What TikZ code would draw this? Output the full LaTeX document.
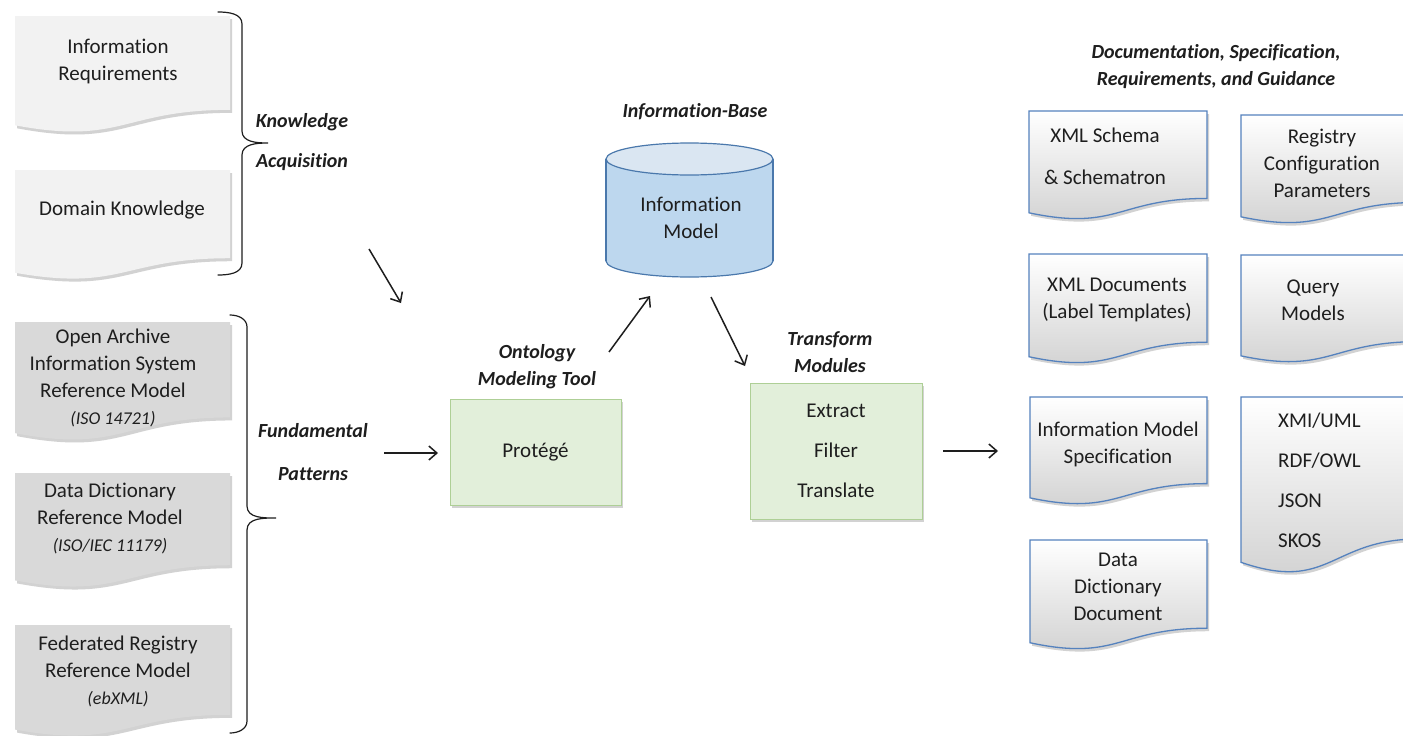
\documentclass[tikz,border=0pt]{standalone}
\usepackage{fontspec}
\setmainfont{Carlito}[Ligatures=NoCommon]
\usetikzlibrary{arrows.meta,shadows}

\definecolor{ink}{HTML}{1E1E1E}
\definecolor{paperlt}{HTML}{F2F2F2}
\definecolor{papergr}{HTML}{D9D9D9}
\definecolor{docblue}{HTML}{5582BE}
\definecolor{docbottom}{HTML}{CFCFCF}
\definecolor{greenfill}{HTML}{E2EFDA}
\definecolor{greenline}{HTML}{AECF96}
\definecolor{cylbody}{HTML}{BDD7EE}
\definecolor{cyltop}{HTML}{DAE6F2}
\definecolor{cylline}{HTML}{4A78AC}

\tikzset{
  softshadow/.style={drop shadow={shadow xshift=2pt, shadow yshift=-3pt, opacity=.25, fill=black!70}},
  lightdoc/.style={fill=paperlt, softshadow},
  greydoc/.style={fill=papergr, softshadow},
  outdoc/.style={draw=docblue, line width=1.3pt, top color=white, bottom color=docbottom, softshadow},
  procbox/.style={draw=greenline, fill=greenfill, line width=1pt, softshadow, font=\fontsize{21}{40}\selectfont, text=ink, align=center},
  bodytext/.style={font=\fontsize{21}{27}\selectfont, text=ink, align=center, inner sep=0pt},
  caption/.style={font=\fontsize{20}{27}\selectfont\bfseries\itshape, text=ink, align=center, inner sep=0pt},
  flow/.style={draw=ink, line width=1.5pt, -{Straight Barb[length=8pt, width=14pt]}},
  brace/.style={draw=ink, line width=1.2pt, line cap=round},
}

% document outline with a wavy bottom edge:
% #1 style, #2 left x, #3 top y, #4 right x, #5 height
\newcommand\docpath[5]{%
  \pgfmathsetmacro\dxm{(#2+#4)/2}%
  \pgfmathsetmacro\dyr{#3+0.802*#5}%
  \pgfmathsetmacro\dyl{#3+0.934*#5}%
  \pgfmathsetmacro\dyc{#3+1.107*#5}%
  \path[#1] (#2,#3) -- (#4,#3) -- (#4,\dyr)
    .. controls (\dxm,\dyr) and (\dxm,\dyc) .. (#2,\dyl) -- cycle;
}

\begin{document}
\begin{tikzpicture}[x=1pt, y=-1pt]
\useasboundingbox (0,0) rectangle (1403,736);
\fill[white] (0,0) rectangle (1403,736);

% ---- inputs: knowledge acquisition
\docpath{lightdoc}{15}{16}{230}{117}
\docpath{lightdoc}{15}{170}{230}{110}
\node[bodytext] (inforeq) at (118,61) {Information\\Requirements};
\node[bodytext] (domain) at (122,210) {Domain Knowledge};

\draw[brace] (218,12) to[out=0,in=90] (242,24) -- (242,131)
  to[out=-90,in=180] (268,143) to[out=180,in=90] (242,155)
  -- (242,263) to[out=-90,in=0] (218,275);
\node[caption, font=\fontsize{20}{40}\selectfont\bfseries\itshape] (know) at (302,142) {Knowledge\\Acquisition};

% ---- inputs: fundamental patterns
\docpath{greydoc}{15}{322}{230}{119}
\docpath{greydoc}{15}{473}{230}{115}
\docpath{greydoc}{15}{625}{230}{112}
\node[bodytext] (oais) at (113,378) {Open Archive\\Information System\\Reference Model\\{\fontsize{18}{27}\selectfont\itshape (ISO 14721)}};
\node[bodytext] (ddrm) at (110,519) {Data Dictionary\\Reference Model\\{\fontsize{18}{27}\selectfont\itshape (ISO/IEC 11179)}};
\node[bodytext] (ebxml) at (118,671) {Federated Registry\\Reference Model\\{\fontsize{18}{27}\selectfont\itshape (ebXML)}};

\draw[brace] (230,315) to[out=0,in=90] (247,327) -- (247,506)
  to[out=-90,in=180] (276,518) to[out=180,in=90] (247,530)
  -- (247,721) to[out=-90,in=0] (230,733);
\node[caption, font=\fontsize{20}{43}\selectfont\bfseries\itshape] (fund) at (313,452) {Fundamental\\Patterns};

% ---- ontology tool
\node[procbox, minimum width=171pt, minimum height=106pt] (protege) at (535.5,452) {Protégé};
\node[caption] (ontcap) at (537,367) {Ontology\\Modeling Tool};

% ---- information base (cylinder)
\fill[cylbody, draw=cylline, line width=1.2pt] (689.5,261) ellipse[x radius=83.5, y radius=16];
\fill[cylbody] (606,159) rectangle (773,261);
\draw[cylline, line width=1.2pt] (606,159) -- (606,261) (773,159) -- (773,261);
\fill[cyltop, draw=cylline, line width=1.2pt] (689.5,159) ellipse[x radius=83.5, y radius=16];
\node[bodytext] (infomodel) at (691,218) {Information\\Model};
\node[caption] (ibcap) at (695,112) {Information-Base};

% ---- transform modules
\node[procbox, minimum width=172pt, minimum height=136pt] (transform) at (836,451) {Extract\\Filter\\Translate};
\node[caption] (tmcap) at (830,352) {Transform\\Modules};

% ---- outputs
\node[caption] (outcap) at (1216,67) {Documentation, Specification,\\Requirements, and Guidance};
\docpath{outdoc}{1029}{111}{1207}{109}
\docpath{outdoc}{1241}{115}{1419}{109}
\docpath{outdoc}{1029}{254}{1207}{110}
\docpath{outdoc}{1241}{255}{1419}{108}
\docpath{outdoc}{1030}{397}{1207}{108}
\docpath{outdoc}{1030}{540}{1207}{110}
\docpath{outdoc}{1241}{397}{1419}{177}
\node[bodytext, font=\fontsize{21}{42}\selectfont] (xsd) at (1105,156) {XML Schema\\\& Schematron};
\node[bodytext] (regconf) at (1322,163) {Registry\\Configuration\\Parameters};
\node[bodytext] (xmldoc) at (1117,300) {XML Documents\\(Label Templates)};
\node[bodytext] (query) at (1313,300) {Query\\Models};
\node[bodytext] (imspec) at (1118,444) {Information Model\\Specification};
\node[bodytext] (dddoc) at (1118,587) {Data\\Dictionary\\Document};
\node[bodytext, align=left, anchor=west, font=\fontsize{21}{40}\selectfont] (formats) at (1278,480) {XMI/UML\\RDF/OWL\\JSON\\SKOS};

% ---- flow arrows
\coordinate (ka-s) at (369,249);  \coordinate (ka-e) at (401,303);
\coordinate (fp-s) at (384,453);  \coordinate (fp-e) at (438,453);
\coordinate (ot-s) at (609,352);  \coordinate (ot-e) at (650,296);
\coordinate (ib-s) at (711,297);  \coordinate (ib-e) at (745,366);
\coordinate (tm-s) at (943,451);  \coordinate (tm-e) at (998,451);
\draw[flow] (ka-s) -- (ka-e);
\draw[flow] (fp-s) -- (fp-e);
\draw[flow] (ot-s) -- (ot-e);
\draw[flow] (ib-s) -- (ib-e);
\draw[flow] (tm-s) -- (tm-e);
\end{tikzpicture}
\end{document}
